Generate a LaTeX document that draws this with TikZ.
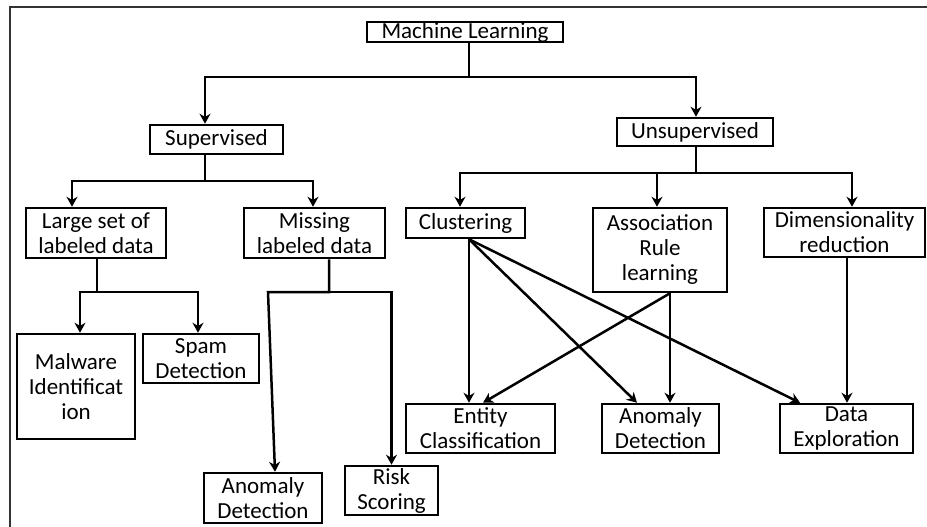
\documentclass[tikz,border=0pt]{standalone}
\usepackage{fontspec}
\setmainfont{Carlito}
\usetikzlibrary{arrows.meta, positioning, calc}

\begin{document}
\begin{tikzpicture}[
    x=1pt, y=-1pt,
    box/.style={rectangle, draw, line width=2.5pt, inner sep=0pt, align=center, font=\fontsize{23}{25}\selectfont},
    arrow/.style={-{Stealth[length=10pt, width=11pt]}, line width=2.5pt},
    frame/.style={line width=2.5pt, black!80}
]
\useasboundingbox (0,0) rectangle (927,527);

% Frame
\draw[frame] (10,527) -- (10,7) -- (927,7);

% Top levels
\node[box, minimum width=196pt, minimum height=20pt] (ml) at (465,32) {Machine Learning};
\node[box, minimum width=133pt, minimum height=29pt] (sup) at (216.5,139.5) {Supervised};
\node[box, minimum width=156pt, minimum height=28pt] (unsup) at (695,132) {Unsupervised};

% Supervised branch
\node[box, minimum width=140pt, minimum height=50pt] (large) at (96,233) {Large set of\\labeled data};
\node[box, minimum width=141pt, minimum height=50pt] (missing) at (314.5,233) {Missing\\labeled data};
\node[box, minimum width=118pt, minimum height=105pt] (malware) at (76,386.5) {Malware\\Identificat\\ion};
\node[box, minimum width=116pt, minimum height=49pt] (spam) at (201,358.5) {Spam\\Detection};
\node[box, minimum width=118pt, minimum height=50pt] (anomsup) at (263,498) {Anomaly\\Detection};
\node[box, minimum width=93pt, minimum height=49pt] (risk) at (391.5,490.5) {Risk\\Scoring};

% Unsupervised branch
\node[box, minimum width=119pt, minimum height=30pt] (clust) at (465.5,223) {Clustering};
\node[box, minimum width=134pt, minimum height=84pt] (assoc) at (660,250) {Association\\Rule\\learning};
\node[box, minimum width=161pt, minimum height=49pt] (dim) at (844.5,232.5) {Dimensionality\\reduction};
\node[box, minimum width=149pt, minimum height=49pt] (entity) at (480.5,428.5) {Entity\\Classification};
\node[box, minimum width=117pt, minimum height=49pt] (anomuns) at (660.5,428.5) {Anomaly\\Detection};
\node[box, minimum width=133pt, minimum height=49pt] (explore) at (846.5,428.5) {Data\\Exploration};

% Forks
\coordinate (mlfork) at (469,77);
\coordinate (supfork) at (205,181);
\coordinate (unsupfork) at (696,173);
\coordinate (largefork) at (97,292);
\coordinate (missfork) at (329,292);
\coordinate (missleft) at (268,292);

\draw[arrow] (ml.south -| mlfork) -- (mlfork) -| ([xshift=-11.5pt]sup.north);
\draw[arrow] (mlfork) -| ([xshift=1pt]unsup.north);

\draw[arrow] (sup.south -| supfork) -- (supfork) -| ([xshift=-24pt]large.north);
\draw[arrow] (supfork) -| ([xshift=-1.5pt]missing.north);

\draw[arrow] (unsup.south -| unsupfork) -- (unsupfork) -| ([xshift=-5.5pt]clust.north);
\draw[arrow] (unsupfork) -| ([xshift=-3pt]assoc.north);
\draw[arrow] (unsupfork) -| ([xshift=7.5pt]dim.north);

\draw[arrow] (large.south -| largefork) -- (largefork) -| ([xshift=4pt]malware.north);
\draw[arrow] (largefork) -| ([xshift=-3pt]spam.north);

\draw[arrow] (missing.south -| missfork) -- (missfork) -- (missleft) -- ([xshift=12pt]anomsup.north);
\draw[arrow] (missfork) -| (risk.north);

% Crossing links
\draw[arrow] ([xshift=3.5pt]clust.south) -- ([xshift=-11.5pt]entity.north);
\draw[arrow] ([xshift=3.5pt]clust.south) -- ([xshift=-23.5pt]anomuns.north);
\draw[arrow] ([xshift=3.5pt]clust.south) -- ([xshift=-46.5pt]explore.north);
\draw[arrow] ([xshift=10pt]assoc.south) -- ([xshift=2.5pt]entity.north);
\draw[arrow] ([xshift=10pt]assoc.south) -- ([xshift=9.5pt]anomuns.north);
\draw[arrow] ([xshift=2.5pt]dim.south) -- ([xshift=0.5pt]explore.north);

\end{tikzpicture}
\end{document}
